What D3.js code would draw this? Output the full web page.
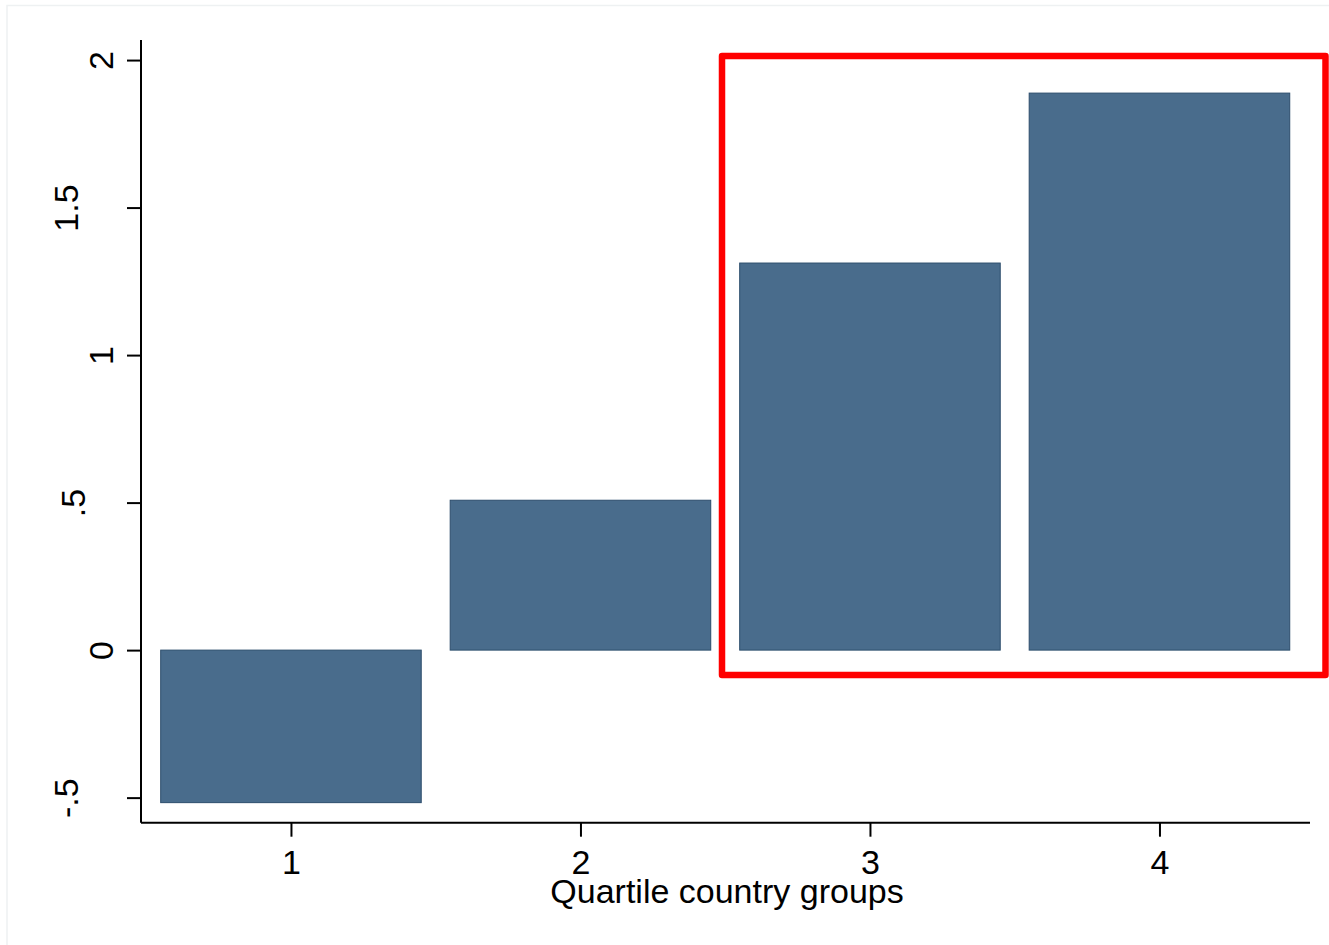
<!DOCTYPE html>
<html><head><meta charset="utf-8">
<script src="https://cdn.jsdelivr.net/npm/d3@7"></script>
<style>html,body{margin:0;padding:0;background:#fff;}svg{display:block;}</style>
</head><body>
<script>
const categories = [1, 2, 3, 4];
const values = [-0.517, 0.508, 1.312, 1.888];
const yTicks = [-0.5, 0, 0.5, 1, 1.5, 2];
const yTickLabels = ["-.5", "0", ".5", "1", "1.5", "2"];
const xTitle = "Quartile country groups";

const W = 1329, H = 945;
const svg = d3.select("body").append("svg").attr("width", W).attr("height", H);
svg.append("rect").attr("width", W).attr("height", H).attr("fill", "#fff");
// outer frame (cut off at right/bottom)
svg.append("rect").attr("x", 7).attr("y", 5.5).attr("width", W + 20).attr("height", H + 20)
  .attr("fill", "none").attr("stroke", "#eef1f2").attr("stroke-width", 1.5);

const x = d3.scaleLinear().domain([0.482, 4.52]).range([141, 1310]);
const y = d3.scaleLinear().domain([-0.585, 2.068]).range([822.7, 40]);
const barW = 0.9;

svg.append("g").selectAll("rect").data(categories).join("rect")
  .attr("x", d => x(d - barW / 2))
  .attr("width", d => x(d + barW / 2) - x(d - barW / 2))
  .attr("y", (d, i) => y(Math.max(0, values[i])))
  .attr("height", (d, i) => Math.abs(y(values[i]) - y(0)))
  .attr("fill", "#496c8c").attr("stroke", "#2c4d6c").attr("stroke-width", 1);

const font = "'Liberation Sans', Arial, sans-serif";
const fs = 34;
const yAxis = d3.axisLeft(y).tickValues(yTicks).tickSize(14).tickPadding(0)
  .tickFormat((d, i) => yTickLabels[i]);
const gy = svg.append("g").attr("transform", "translate(141,0)").call(yAxis);
gy.select(".domain").attr("stroke", "#000").attr("stroke-width", 2).attr("d", `M0,${y(2.068)}V${y(-0.585)}`);
gy.selectAll(".tick line").attr("stroke", "#000").attr("stroke-width", 2);
const labelOffset = s => s.length === 1 ? -28 : (s.length === 2 ? -56 : -63);
gy.selectAll(".tick text").attr("font-family", font).attr("font-size", fs).attr("fill", "#000")
  .attr("text-anchor", "middle").attr("dy", 0).attr("x", 0)
  .attr("transform", (d, i) => `translate(${labelOffset(yTickLabels[i])},0) rotate(-90)`);

const xAxis = d3.axisBottom(x).tickValues(categories).tickSize(14).tickPadding(0).tickFormat(d3.format("d"));
const gx = svg.append("g").attr("transform", `translate(0,${y(-0.585)})`).call(xAxis);
gx.select(".domain").attr("stroke", "#000").attr("stroke-width", 2).attr("d", `M${x(0.482)},0H${x(4.52)}`);
gx.selectAll(".tick line").attr("stroke", "#000").attr("stroke-width", 2);
gx.selectAll(".tick text").attr("font-family", font).attr("font-size", fs).attr("fill", "#000")
  .attr("dy", 0).attr("y", 51);

svg.append("text").attr("x", 727).attr("y", 903).attr("text-anchor", "middle")
  .attr("font-family", font).attr("font-size", fs).attr("fill", "#000").text(xTitle);

// red highlight box
svg.append("rect").attr("x", 722).attr("y", 56).attr("width", 1325.5 - 722).attr("height", 675 - 56)
  .attr("fill", "none").attr("stroke", "#ff0000").attr("stroke-width", 6.5).attr("stroke-linejoin", "round");
</script>
</body></html>
